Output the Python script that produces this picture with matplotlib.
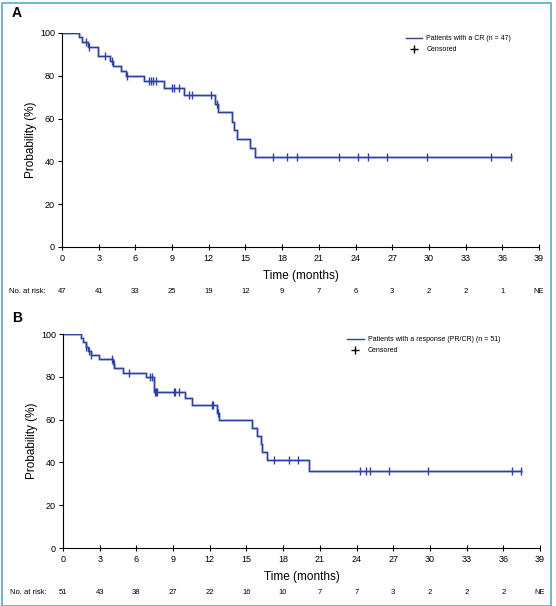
import numpy as np
import matplotlib
matplotlib.use("Agg")
import matplotlib.pyplot as plt
from matplotlib.lines import Line2D
from matplotlib.patches import Rectangle

plt.rcParams['font.family'] = ['Liberation Sans', 'DejaVu Sans']

# panel A: patients with a CR
times_a = [0, 1.42, 1.6, 2.1, 2.95, 3.95, 4.2, 4.85, 5.25, 6.7, 8.3, 10.0,
           12.55, 12.75, 13.9, 14.05, 14.3, 15.4, 15.8]
surv_a = [100, 97.9, 95.8, 93.6, 89.1, 87.0, 84.6, 82.2, 79.7, 77.5, 74.5, 71.1,
          66.9, 63.0, 58.6, 54.5, 50.4, 46.1, 41.9]
cens_a = [2.0, 2.2, 3.55, 4.05, 5.3, 7.1, 7.3, 7.45, 7.65, 9.0, 9.15, 9.55,
          10.35, 10.65, 12.2, 12.7, 17.26, 18.4, 19.18, 22.64, 24.22, 25.04,
          26.6, 29.87, 35.05, 36.68]
risk_a = ['47', '41', '33', '25', '19', '12', '9', '7', '6', '3', '2', '2', '1', 'NE']
label_a = 'Patients with a CR (n = 47)'

# panel B: patients with a response (PR/CR)
times_b = [0, 1.45, 1.65, 1.85, 2.05, 2.3, 2.95, 4.05, 4.2, 4.9, 6.8, 7.45,
           10.0, 10.55, 12.6, 12.78, 15.47, 15.87, 16.2, 16.3, 16.64, 20.1]
surv_b = [100, 98.0, 96.1, 94.1, 92.2, 90.2, 88.1, 86.0, 83.9, 82.0, 79.7, 72.9,
          70.2, 66.7, 63.1, 59.6, 56.0, 52.3, 48.6, 44.9, 41.0, 36.0]
cens_b = [1.9, 2.1, 2.3, 4.0, 4.14, 5.37, 7.14, 7.27, 7.55, 7.6, 7.7, 9.05,
          9.18, 9.5, 12.18, 12.3, 12.67, 17.29, 18.46, 19.2, 24.27, 24.8,
          25.09, 26.65, 29.87, 36.74, 37.42]
risk_b = ['51', '43', '38', '27', '22', '16', '10', '7', '7', '3', '2', '2', '2', 'NE']
label_b = 'Patients with a response (PR/CR) (n = 51)'

xticks = np.arange(0, 40, 3)
line_col = '#2f41a0'

W, H = 556, 606
fig = plt.figure(figsize=(W / 100, H / 100), dpi=100)
fig.patches.append(Rectangle((2 / W, 0), 549 / W, 1 - 3 / H, transform=fig.transFigure,
                             fill=False, edgecolor='#5aa9d6', linewidth=1.2))


def km_panel(rect, times, surv, cens, risk, label, letter, letter_y, leg_anchor):
    ax = fig.add_axes(rect)
    t_end = max(cens[-1], times[-1])
    xs = list(times) + [t_end]
    ys = list(surv) + [surv[-1]]
    ax.step(xs, ys, where='post', color='#9fb0e0', lw=2.2, alpha=0.6)
    ax.step(xs, ys, where='post', color=line_col, lw=1.0)
    idx = np.searchsorted(times, cens, side='right') - 1
    cy = np.array(surv)[idx]
    ax.plot(cens, cy, ls='none', marker='|', ms=6, mew=1.0, color=line_col)

    ax.set_xlim(0, 39)
    ax.set_ylim(0, 100)
    ax.set_xticks(xticks)
    ax.set_yticks(range(0, 101, 20))
    for s in ['top', 'right']:
        ax.spines[s].set_visible(False)
    for s in ['left', 'bottom']:
        ax.spines[s].set_linewidth(0.8)
    ax.tick_params(axis='y', direction='out', length=3, width=0.8, labelsize=6.5, pad=2)
    ax.tick_params(axis='x', direction='inout', length=4, width=0.8, labelsize=6.5, pad=3)
    ax.set_ylabel('Probability (%)', fontsize=8.5, labelpad=2)
    ax.set_xlabel('Time (months)', fontsize=8.5, labelpad=5)

    trans = ax.get_xaxis_transform()
    ax.text(-1.3, -0.21, 'No. at risk:', transform=trans, fontsize=5.5,
            ha='right', va='center', clip_on=False)
    for x, r in zip(xticks, risk):
        ax.text(x, -0.21, r, transform=trans, fontsize=5.5, ha='center',
                va='center', clip_on=False)

    handles = [Line2D([], [], color=line_col, lw=1.0),
               Line2D([], [], ls='none', marker='+', ms=6, mew=1.0, color='black')]
    ax.legend(handles, [label, 'Censored'], loc='upper right', bbox_to_anchor=leg_anchor,
              frameon=False, fontsize=5.0, handlelength=2.4, handletextpad=0.6,
              labelspacing=0.6)
    fig.text(12 / W, 1 - letter_y / H, letter,
             fontsize=10, fontweight='bold', ha='left', va='center')
    return ax


km_panel([62 / W, 1 - 247 / H, 477 / W, 214 / H], times_a, surv_a, cens_a, risk_a,
         label_a, 'A', 13, (0.955, 1.02))
km_panel([63 / W, 1 - 548 / H, 477 / W, 214 / H], times_b, surv_b, cens_b, risk_b,
         label_b, 'B', 318, (0.93, 1.02))

fig.savefig('out.png', dpi=100)
